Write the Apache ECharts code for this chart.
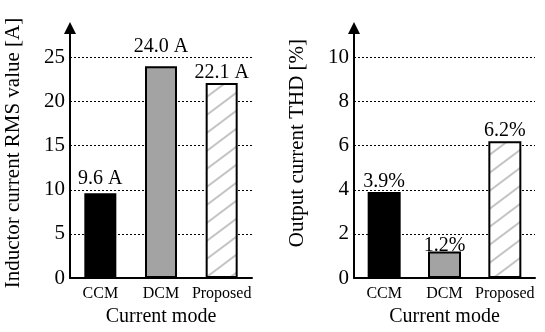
<!DOCTYPE html>
<html><head><meta charset="utf-8">
<script src="https://cdn.jsdelivr.net/npm/echarts@6/dist/echarts.min.js"></script>
<style>html,body{margin:0;padding:0;background:#fff}#c{width:545px;height:332px}</style>
</head><body><div id="c"></div>
<script>
const categories = ['CCM', 'DCM', 'Proposed'];
const rmsValues = [9.6, 24.0, 22.1];
const thdValues = [3.9, 1.2, 6.2];
const rmsTicks = [0, 5, 10, 15, 20, 25];
const thdTicks = [0, 2, 4, 6, 8, 10];

const FONT = 'Liberation Serif';

function hatch() {
  const w = 24, h = 18;
  const cv = document.createElement('canvas');
  cv.width = w; cv.height = h;
  const ctx = cv.getContext('2d');
  ctx.fillStyle = '#fff';
  ctx.fillRect(0, 0, w, h);
  ctx.strokeStyle = '#c4c4c4';
  ctx.lineWidth = 2;
  [[0, 0], [0, h], [0, -h]].forEach(([dx, dy]) => {
    ctx.beginPath();
    ctx.moveTo(-w + dx, 2 * h + dy);
    ctx.lineTo(2 * w + dx, -h + dy);
    ctx.stroke();
  });
  return { image: cv, repeat: 'repeat' };
}
const pattern = hatch();
const fills = ['#000000', '#a3a3a3', pattern];

const rmsDist = [5, 10, 0];
const thdDist = [0, -4, 1];

function barData(vals, dists) {
  return vals.map((v, i) => ({
    value: v,
    itemStyle: { color: fills[i] },
    label: { distance: dists[i] }
  }));
}

function yAxis(gi, ticks, max, name, padding, fs) {
  const step = ticks[1] - ticks[0];
  return {
    type: 'value', gridIndex: gi, min: 0, max: max, interval: step,
    name: name, nameLocation: 'middle', nameGap: 46,
    nameTextStyle: { fontFamily: FONT, fontSize: fs, color: '#000', padding: padding },
    axisLine: { show: true, symbol: ['none', 'triangle'], symbolSize: [12, 12], lineStyle: { color: '#000', width: 2 } },
    axisTick: { show: false },
    axisLabel: {
      fontFamily: FONT, fontSize: 21, color: '#000', margin: 5,
      formatter: v => (ticks.indexOf(Math.round(v * 1000) / 1000) >= 0 ? String(v) : '')
    },
    splitLine: { show: true, showMinLine: false, showMaxLine: false, lineStyle: { color: '#000', type: [2, 2], width: 1 } }
  };
}

function xAxis(gi) {
  return {
    type: 'category', gridIndex: gi, data: categories,
    name: 'Current mode', nameLocation: 'middle', nameGap: 24,
    nameTextStyle: { fontFamily: FONT, fontSize: 20, color: '#000' },
    axisLine: { lineStyle: { color: '#000', width: 2 } },
    axisTick: { show: false },
    axisLabel: { fontFamily: FONT, fontSize: 16, color: '#000', margin: 8, interval: 0 }
  };
}

const chart = echarts.init(document.getElementById('c'), null, { renderer: 'canvas' });
chart.setOption({
  animation: false,
  backgroundColor: '#fff',
  grid: [
    { left: 70, top: 28, width: 182, height: 255 },
    { left: 354, top: 28, width: 181, height: 255 }
  ],
  xAxis: [xAxis(0), xAxis(1)],
  yAxis: [
    yAxis(0, rmsTicks, 255 / 9, 'Inductor current RMS value [A]', [0, 0, 0, 0], 21),
    yAxis(1, thdTicks, 255 / 22.5, 'Output current THD [%]', [0, 0, 0, 20], 21)
  ],
  series: [
    {
      type: 'bar', xAxisIndex: 0, yAxisIndex: 0, barWidth: 32,
      data: barData(rmsValues, rmsDist),
      itemStyle: { borderColor: '#000', borderWidth: 2 },
      label: { show: true, position: 'top', fontFamily: FONT, fontSize: 20, color: '#000',
        formatter: p => p.value.toFixed(1) + ' A' }
    },
    {
      type: 'bar', xAxisIndex: 1, yAxisIndex: 1, barWidth: 33,
      data: barData(thdValues, thdDist),
      itemStyle: { borderColor: '#000', borderWidth: 2 },
      label: { show: true, position: 'top', fontFamily: FONT, fontSize: 20, color: '#000',
        formatter: p => p.value.toFixed(1) + '%' }
    }
  ]
});
</script>
</body></html>
